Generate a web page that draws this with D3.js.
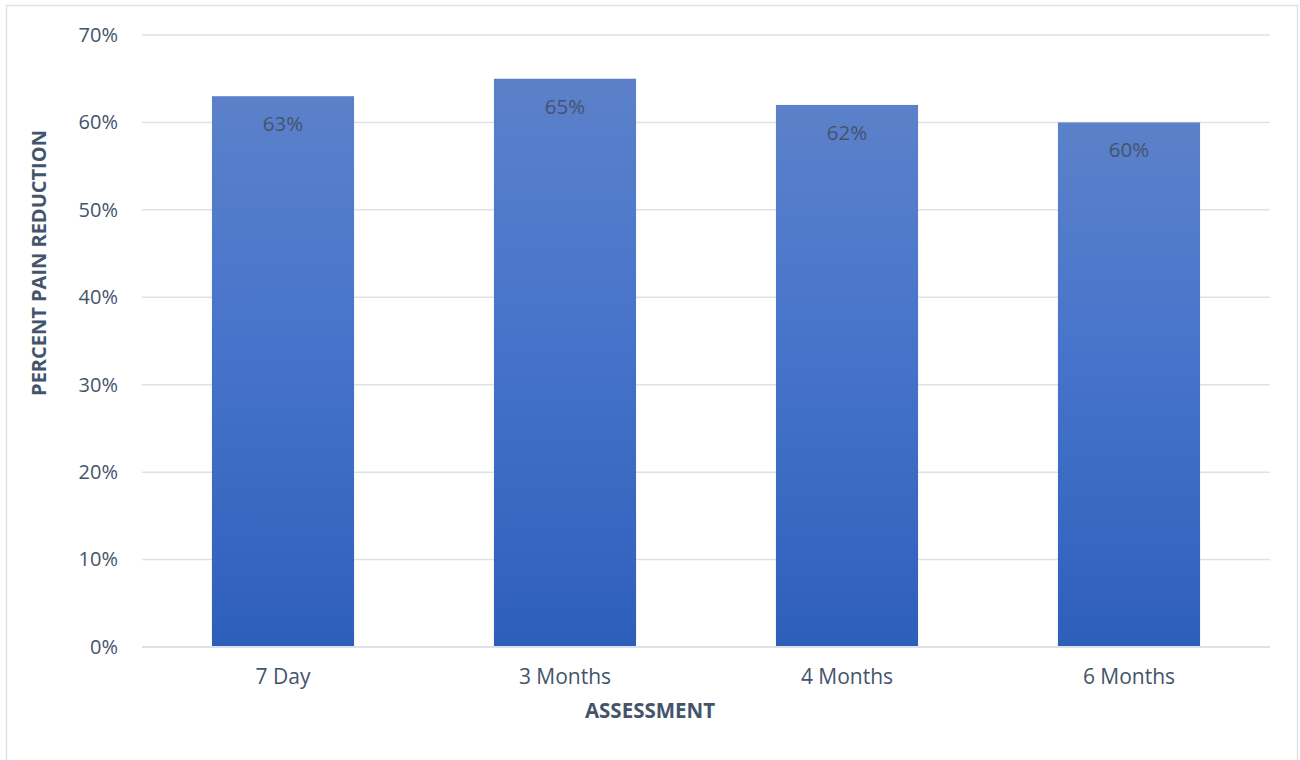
<!DOCTYPE html>
<html>
<head>
<meta charset="utf-8">
<script src="https://cdn.jsdelivr.net/npm/d3@7"></script>
<style>
  html, body { margin: 0; padding: 0; background: #fff; }
  svg { display: block; }
  text { font-family: "Open Sans", "Noto Sans", sans-serif; }
</style>
</head>
<body>
<svg id="chart" width="1300" height="760"></svg>
<script>
// Pain reduction by assessment time point
const categories = ["7 Day", "3 Months", "4 Months", "6 Months"];
const values = [0.63, 0.65, 0.62, 0.60];
const yTicks = [0, 0.1, 0.2, 0.3, 0.4, 0.5, 0.6, 0.7];

const svg = d3.select("#chart");
const W = 1300, H = 760;
const m = { left: 142, right: 30, top: 35, bottom: 113 };
const innerW = W - m.left - m.right;
const innerH = H - m.top - m.bottom;

// Outer chart frame
svg.append("rect")
  .attr("x", 6.5).attr("y", 5.5)
  .attr("width", 1291).attr("height", 770)
  .attr("fill", "#fff")
  .attr("stroke", "#dfe3e8").attr("stroke-width", 1.5);

const defs = svg.append("defs");
const grad = defs.append("linearGradient")
  .attr("id", "barGrad")
  .attr("x1", 0).attr("y1", 0).attr("x2", 0).attr("y2", 1);
grad.append("stop").attr("offset", "0%").attr("stop-color", "#5c81ca");
grad.append("stop").attr("offset", "50%").attr("stop-color", "#4472cb");
grad.append("stop").attr("offset", "100%").attr("stop-color", "#2e5fb8");

const g = svg.append("g").attr("transform", `translate(${m.left},${m.top})`);

const x = d3.scaleBand()
  .domain(categories)
  .range([0, innerW])
  .paddingInner(0.496)
  .paddingOuter(0.248);

const y = d3.scaleLinear().domain([0, 0.7]).range([innerH, 0]);

// Horizontal gridlines
g.append("g")
  .selectAll("line")
  .data(yTicks)
  .join("line")
  .attr("x1", 0).attr("x2", innerW)
  .attr("y1", d => y(d)).attr("y2", d => y(d))
  .attr("stroke", "#dde1e8").attr("stroke-width", 1.5);

// Y axis labels
const yAxis = d3.axisLeft(y)
  .tickValues(yTicks)
  .tickFormat(d3.format(".0%"))
  .tickSize(0)
  .tickPadding(24);
const yg = g.append("g").call(yAxis);
yg.select(".domain").remove();
yg.selectAll("text")
  .attr("fill", "#44546a")
  .attr("font-size", 20);

// Bars
g.append("g")
  .selectAll("rect")
  .data(values)
  .join("rect")
  .attr("x", (d, i) => x(categories[i]))
  .attr("y", d => y(d))
  .attr("width", x.bandwidth())
  .attr("height", d => innerH - y(d))
  .attr("fill", "url(#barGrad)");

// Value labels inside the top of each bar
g.append("g")
  .selectAll("text")
  .data(values)
  .join("text")
  .attr("x", (d, i) => x(categories[i]) + x.bandwidth() / 2)
  .attr("y", d => y(d) + 35)
  .attr("text-anchor", "middle")
  .attr("fill", "#44546a")
  .attr("font-size", 20.5)
  .text(d => d3.format(".0%")(d));

// Baseline
g.append("line")
  .attr("x1", 0).attr("x2", innerW)
  .attr("y1", innerH).attr("y2", innerH)
  .attr("stroke", "#dde1e8").attr("stroke-width", 2);

// X axis labels
const xAxis = d3.axisBottom(x).tickSize(0).tickPadding(22);
const xg = g.append("g").attr("transform", `translate(0,${innerH})`).call(xAxis);
xg.select(".domain").remove();
xg.selectAll("text")
  .attr("fill", "#44546a")
  .attr("font-size", 21);

// Axis titles
svg.append("text")
  .attr("x", 650).attr("y", 718)
  .attr("text-anchor", "middle")
  .attr("font-size", 20.5)
  .attr("font-weight", "bold")
  .attr("fill", "#44546a")
  .text("ASSESSMENT");

svg.append("text")
  .attr("transform", "translate(46,263) rotate(-90)")
  .attr("text-anchor", "middle")
  .attr("font-size", 20)
  .attr("font-weight", "bold")
  .attr("fill", "#44546a")
  .text("PERCENT PAIN REDUCTION");
</script>
</body>
</html>
